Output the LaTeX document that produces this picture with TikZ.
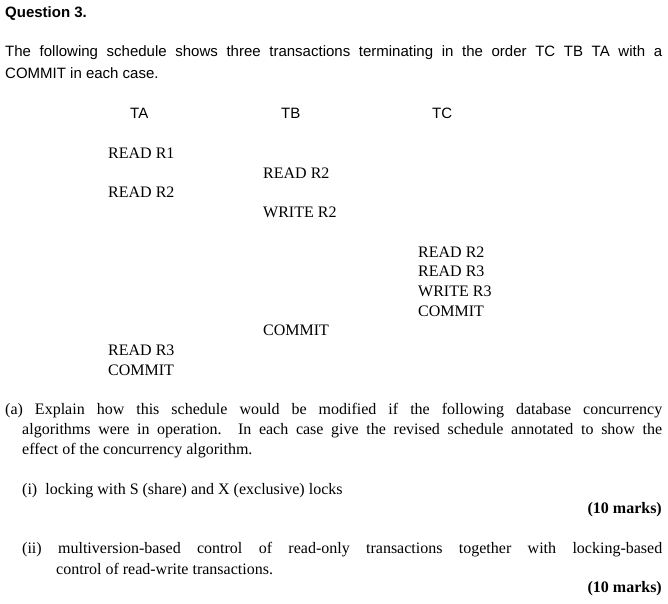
\documentclass[tikz,border=0pt]{standalone}
\usepackage{fontspec}
\setmainfont{Liberation Serif}
\newfontfamily\hsans{Liberation Sans}
\newcommand{\jline}[2]{\makebox[#1][s]{#2}}
\begin{document}
\begin{tikzpicture}[x=1pt,y=-1pt,
  t/.style={anchor=west,inner sep=0pt,font=\fontsize{16}{19.5}\selectfont},
  s/.style={anchor=west,inner sep=0pt,font=\hsans\fontsize{15}{19.5}\selectfont},
  b/.style={anchor=east,inner sep=0pt,font=\bfseries\fontsize{16}{19}\selectfont}]
\useasboundingbox (0,0) rectangle (668,603);
\node[s,font=\hsans\bfseries\fontsize{15}{16}\selectfont] (q) at (5,14) {Question 3.};
\node[s] (p1a) at (5,53) {\jline{657pt}{The following schedule shows three transactions terminating in the order TC TB TA with a}};
\node[s] (p1b) at (5,73) {COMMIT in each case.};
\node[s] (ta) at (130,113) {TA};
\node[s] (tb) at (281,113) {TB};
\node[s] (tc) at (432,113) {TC};
\node[t] (a1) at (108,153) {READ R1};
\node[t] (b1) at (263,173) {READ R2};
\node[t] (a2) at (108,192) {READ R2};
\node[t] (b2) at (263,212) {WRITE R2};
\node[t] (c1) at (418,252) {READ R2};
\node[t] (c2) at (418,271) {READ R3};
\node[t] (c3) at (418,291) {WRITE R3};
\node[t] (c4) at (418,311) {COMMIT};
\node[t] (b3) at (263,330) {COMMIT};
\node[t] (a3) at (108,350) {READ R3};
\node[t] (a4) at (108,370) {COMMIT};
\node[t] (pa1) at (5,411) {\jline{657pt}{(a) Explain how this schedule would be modified if the following database concurrency}};
\node[t] (pa2) at (22,431) {\jline{640pt}{algorithms were in operation. In each case give the revised schedule annotated to show the}};
\node[t] (pa3) at (22,451) {effect of the concurrency algorithm.};
\node[t] (pi) at (22,491) {(i)\ \ locking with S (share) and X (exclusive) locks};
\node[b] (m1) at (662,510) {(10 marks)};
\node[t] (pii1) at (22,550) {\jline{640pt}{(ii) multiversion-based control of read-only transactions together with locking-based}};
\node[t] (pii2) at (56,569) {control of read-write transactions.};
\node[b] (m2) at (662,589) {(10 marks)};
\end{tikzpicture}
\end{document}
